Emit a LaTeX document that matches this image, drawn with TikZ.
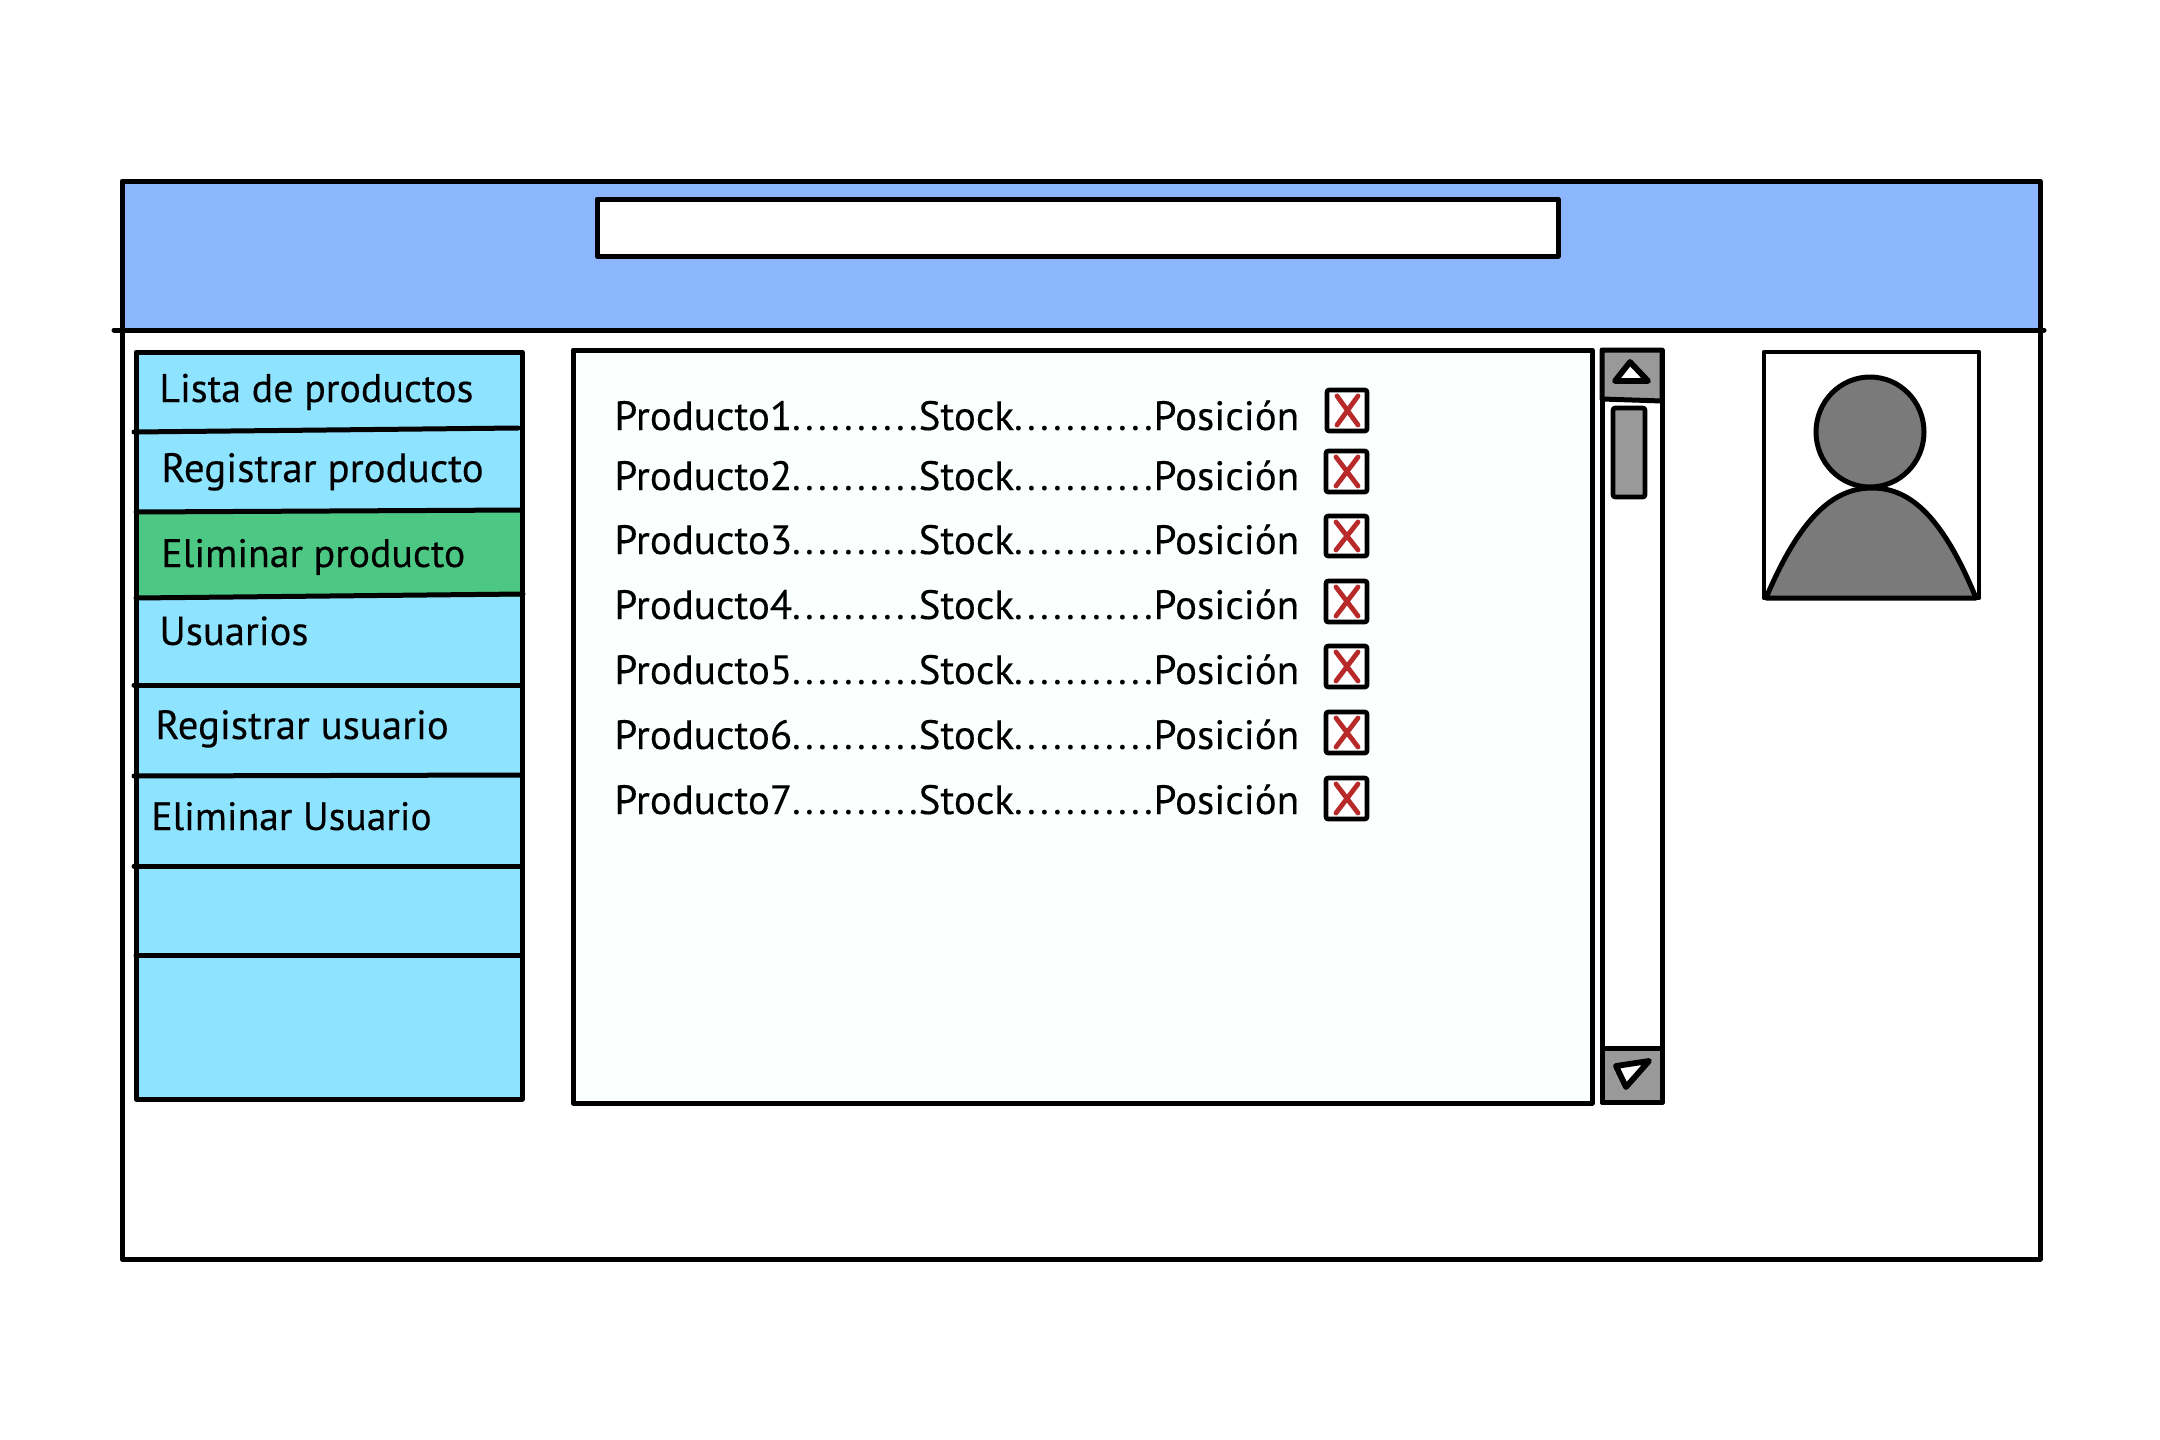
\documentclass[tikz,border=0pt]{standalone}
\usepackage{fontspec}
\setmainfont{PT Sans}
\newfontfamily\inkfont[FakeBold=0.25]{PT Sans}
\newfontfamily\dotfont[LetterSpace=4]{PT Sans}
\definecolor{headblue}{HTML}{8CB7FF}
\definecolor{menublue}{HTML}{8EE3FF}
\definecolor{menugreen}{HTML}{4CC884}
\definecolor{panelwhite}{HTML}{FBFFFE}
\definecolor{btngray}{HTML}{999999}
\definecolor{avatargray}{HTML}{7A7A7A}
\definecolor{xred}{HTML}{B82A2A}
\tikzset{
  ink/.style={draw=black,line width=2.5pt,line join=round,line cap=round},
  thin ink/.style={draw=black,line width=2.3pt,line join=round,line cap=round},
  menutext/.style={anchor=base west,inner sep=0pt,font=\inkfont\fontsize{#1}{24}\selectfont,text=black},
  rowtext/.style={anchor=base west,inner sep=0pt,font=\inkfont\fontsize{20.5}{24}\selectfont,text=black},
  crossmark/.style={draw=xred,line width=2.4pt,line cap=round},
}
\newcommand{\rowtxt}[1]{Producto#1{\dotfont..........}Stock{\dotfont...........}Posición}
\newcommand{\xbox}[4]{%
  \draw[thin ink,fill=white,rounded corners=1pt] (#1,#3) rectangle (#2,#4);
  \draw[crossmark] ({#1+10},{#3+6}) -- ({#2-9},{#4-6});
  \draw[crossmark] ({#2-9},{#3+6}) -- ({#1+10},{#4-6});
}
\begin{document}
\begin{tikzpicture}[x=0.5pt,y=-0.5pt]
\useasboundingbox (0,0) rectangle (2160,1440);
\fill[white] (0,0) rectangle (2160,1440);
% window
\fill[headblue] (122,181) rectangle (2040,329);
\draw[ink] (122,181) -- (2040,181) -- (2040,1259) -- (122,1259) -- cycle;
\draw[ink] (114,330) -- (2044,330);
\draw[ink,fill=white] (597,199) rectangle (1558,256);
% menu
\fill[menublue] (136,352) rectangle (522,1100);
\fill[menugreen] (136,512) rectangle (522,597);
\draw[ink] (136,352) -- (522,352) -- (522,1099) -- (136,1099) -- cycle;
\draw[ink] (134,432) -- (518,428);
\draw[ink] (136,512) -- (522,510);
\draw[ink] (136,598) -- (523,594);
\draw[ink] (134,685) -- (522,685);
\draw[ink] (134,776) -- (522,775);
\draw[ink] (134,866) -- (522,866);
\draw[ink] (136,955) -- (522,955);
\node[menutext=20] (m1) at (159,402) {Lista de productos};
\node[menutext=20.5] (m2) at (161,482) {Registrar producto};
\node[menutext=19.9] (m3) at (161,567) {Eliminar producto};
\node[menutext=20.3] (m4) at (159,645) {Usuarios};
\node[menutext=20.4] (m5) at (155,739) {Registrar usuario};
\node[menutext=19.8] (m6) at (151,830) {Eliminar Usuario};
% panel
\draw[ink,fill=panelwhite] (573,350) rectangle (1592,1103);
\node[rowtext] (r1) at (614,430) {\rowtxt{1}};
\node[rowtext] (r2) at (614,490) {\rowtxt{2}};
\node[rowtext] (r3) at (614,554) {\rowtxt{3}};
\node[rowtext] (r4) at (614,619) {\rowtxt{4}};
\node[rowtext] (r5) at (614,684) {\rowtxt{5}};
\node[rowtext] (r6) at (614,749) {\rowtxt{6}};
\node[rowtext] (r7) at (614,814) {\rowtxt{7}};
\xbox{1327}{1367}{390}{431}
\xbox{1326}{1367}{451}{492}
\xbox{1326}{1367}{516}{556}
\xbox{1326}{1367}{581}{622}
\xbox{1326}{1367}{646}{687}
\xbox{1326}{1367}{712}{753}
\xbox{1326}{1367}{778}{819}
% scrollbar
\draw[ink,fill=white] (1602,350) rectangle (1662,1102);
\draw[ink,fill=btngray] (1602,350) -- (1662,350) -- (1662,401) -- (1602,399) -- cycle;
\draw[ink,fill=btngray] (1602,1048) -- (1662,1048) -- (1662,1102) -- (1602,1102) -- cycle;
\draw[thin ink,fill=btngray,rounded corners=1pt] (1613,408) rectangle (1645,497);
\draw[draw=black,line width=2.9pt,line join=round,fill=white] (1630,362) -- (1648,381) -- (1615,381) -- cycle;
\draw[draw=black,line width=2.9pt,line join=round,fill=white] (1616,1066) -- (1649,1061) -- (1626,1087) -- cycle;
% avatar
\draw[thin ink,fill=white] (1764,352) rectangle (1979,598);
\draw[ink,fill=avatargray] (1870,432) ellipse (54 and 55);
\draw[ink,fill=avatargray] (1766,598) .. controls (1803,510) and (1838,488) .. (1872,488) .. controls (1906,488) and (1940,510) .. (1976,598) -- cycle;
\end{tikzpicture}
\end{document}
